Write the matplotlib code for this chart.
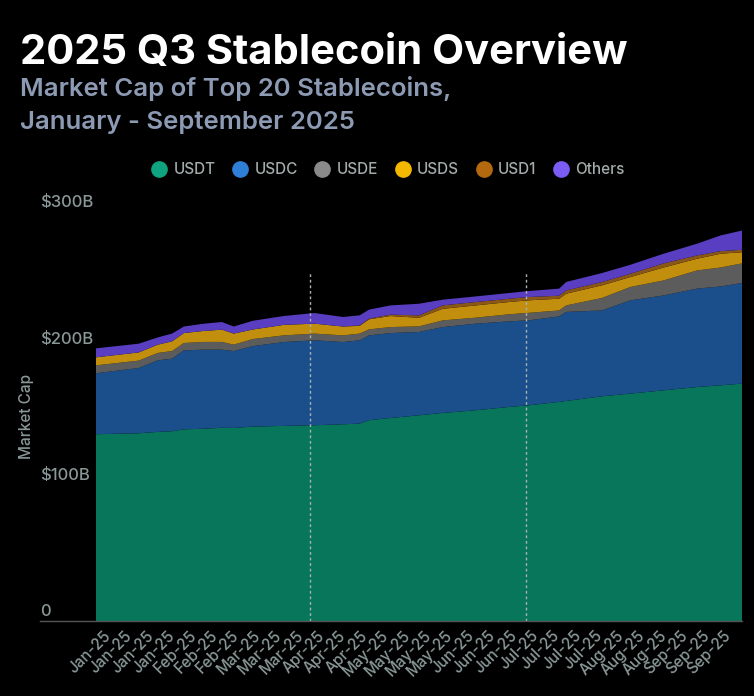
import matplotlib
matplotlib.use("Agg")
import matplotlib.pyplot as plt
import matplotlib.transforms as mtransforms
from matplotlib.lines import Line2D
import pandas as pd
import numpy as np

plt.rcParams['font.family'] = ['Inter', 'DejaVu Sans']

# ---- data (billions USD) ----
dates = ["2025-01-01", "2025-01-19", "2025-01-27", "2025-02-02", "2025-02-07", "2025-02-15",
         "2025-02-23", "2025-02-28", "2025-03-08", "2025-03-21", "2025-04-03", "2025-04-15",
         "2025-04-22", "2025-04-26", "2025-05-05", "2025-05-17", "2025-05-27", "2025-06-10",
         "2025-06-24", "2025-07-02", "2025-07-15", "2025-07-18", "2025-08-02", "2025-08-14",
         "2025-08-28", "2025-09-11", "2025-09-21", "2025-09-30"]
usdt = [137.0, 137.7, 138.7, 139.2, 140.6, 141.0, 141.7, 141.6, 142.6, 143.1, 143.6, 144.3,
        144.8, 147.3, 148.9, 150.9, 152.6, 154.6, 157.0, 158.2, 160.7, 161.4, 164.8, 166.8,
        169.2, 171.6, 172.9, 174.1]
usdc = [44.7, 47.9, 52.5, 53.2, 57.9, 58.0, 57.3, 56.4, 59.0, 61.5, 62.3, 60.3,
        61.1, 62.2, 62.3, 61.1, 63.0, 63.5, 62.8, 62.3, 62.7, 65.3, 63.0, 68.4,
        69.6, 72.2, 72.5, 73.8]
usde = [5.8, 5.4, 5.4, 5.6, 5.4, 5.7, 5.7, 4.7, 5.2, 4.9, 4.9, 4.9,
        4.9, 4.4, 4.4, 4.1, 4.9, 4.4, 5.2, 5.5, 4.4, 4.8, 9.1, 9.8,
        11.0, 13.3, 13.9, 14.4]
usds = [5.9, 6.0, 6.1, 7.1, 7.3, 8.0, 9.0, 8.1, 7.0, 7.7, 7.3, 6.5,
        5.7, 7.4, 8.1, 6.3, 8.5, 9.0, 9.0, 9.2, 8.6, 8.6, 9.3, 7.3,
        9.5, 8.6, 10.1, 8.2]
usd1 = [0.0, 0.0, 0.0, 0.0, 0.0, 0.0, 0.0, 0.0, 0.0, 0.0, 0.0, 0.0,
        0.3, 0.5, 1.0, 1.8, 2.5, 2.5, 2.4, 2.4, 2.2, 2.4, 2.4, 2.4,
        3.0, 2.4, 1.9, 1.8]
others = [6.6, 6.4, 5.3, 5.7, 4.8, 5.3, 5.6, 5.2, 6.4, 6.5, 7.8, 7.0,
          7.4, 6.6, 6.8, 8.5, 4.2, 4.1, 4.2, 4.4, 5.2, 6.2, 6.6, 6.6,
          7.1, 8.6, 11.5, 14.1]
series_names = ["USDT", "USDC", "USDE", "USDS", "USD1", "Others"]
y_ticks = [0, 100, 200, 300]
y_tick_labels = ["0", "$100B", "$200B", "$300B"]
quarter_marks = ["2025-04-01", "2025-07-01"]

# ---- style ----
area_colors = ["#07765A", "#1B4F8C", "#5C5C5C", "#C18E0D", "#8A5716", "#5A3EC2"]
legend_colors = ["#10A37F", "#2F7ED8", "#8A8A8A", "#F5B800", "#B5690F", "#7B5CF5"]
label_color = "#8A9898"

W, H = 754, 696
fig = plt.figure(figsize=(W / 100, H / 100), dpi=100, facecolor="black")

ax_l, ax_r, ax_b, ax_t = 96, 742, 621, 212
ax = fig.add_axes([ax_l / W, 1 - ax_b / H, (ax_r - ax_l) / W, (ax_b - ax_t) / H])
ax.set_facecolor("black")

x = pd.to_datetime(dates)
ax.stackplot(x, usdt, usdc, usde, usds, usd1, others, colors=area_colors, linewidth=0)
ax.set_xlim(x[0], x[-1])
ax.set_ylim(0, 300)

for s in ax.spines.values():
    s.set_visible(False)

# quarter dividers
for q in quarter_marks:
    ax.vlines(pd.Timestamp(q), 0, 257, colors="#A9B2B2", linestyles=(0, (2, 2)), linewidth=1.0, zorder=3)

# y labels (left-aligned at x=40 px, raised above value)
ytrans = mtransforms.blended_transform_factory(fig.transFigure, ax.transData)
ytrans = mtransforms.offset_copy(ytrans, fig=fig, x=0, y=9, units="dots")
ax.set_yticks([])
for v, lab in zip(y_ticks, y_tick_labels):
    ax.text(40 / W, v, lab, transform=ytrans, ha="left", va="center",
            color=label_color, fontsize=12, fontweight="medium", clip_on=False)

# baseline
fig.add_artist(Line2D([40 / W, ax_r / W], [1 - ax_b / H, 1 - ax_b / H], color="#555555", linewidth=1.0))

# x ticks
tick_dates = pd.date_range("2025-01-04", periods=30, freq="9D")
ax.set_xticks(tick_dates)
ax.set_xticklabels([d.strftime("%b-%y") for d in tick_dates], rotation=45, ha="right",
                   va="top", rotation_mode="anchor", color=label_color, fontsize=11,
                   fontweight="medium")
ax.tick_params(axis="x", length=0, pad=5)

# y axis title
fig.text(27 / W, 1 - 416 / H, "Market Cap", rotation=90, ha="center", va="center",
         color=label_color, fontsize=11, fontweight="medium")

# titles
fig.text(20 / W, 1 - 64 / H, "2025 Q3 Stablecoin Overview", color="white",
         fontsize=30, fontweight="bold", ha="left", va="baseline")
fig.text(20 / W, 1 - 96 / H, "Market Cap of Top 20 Stablecoins,", color="#8C9AB3",
         fontsize=18.5, fontweight="semibold", ha="left", va="baseline")
fig.text(20 / W, 1 - 129 / H, "January - September 2025", color="#8C9AB3",
         fontsize=18.5, fontweight="semibold", ha="left", va="baseline")

# legend
handles = [Line2D([], [], marker="o", linestyle="none", markersize=11,
                  markerfacecolor=c, markeredgecolor=c) for c in legend_colors]
leg = fig.legend(handles, series_names, loc="center", bbox_to_anchor=(388 / W, 1 - 170 / H),
                 ncol=6, frameon=False, handletextpad=0.45, columnspacing=1.1,
                 prop={"size": 11, "weight": "medium"}, labelcolor="#A3ABAB", handlelength=1.0)

fig.savefig("out.png", dpi=100, facecolor="black")
